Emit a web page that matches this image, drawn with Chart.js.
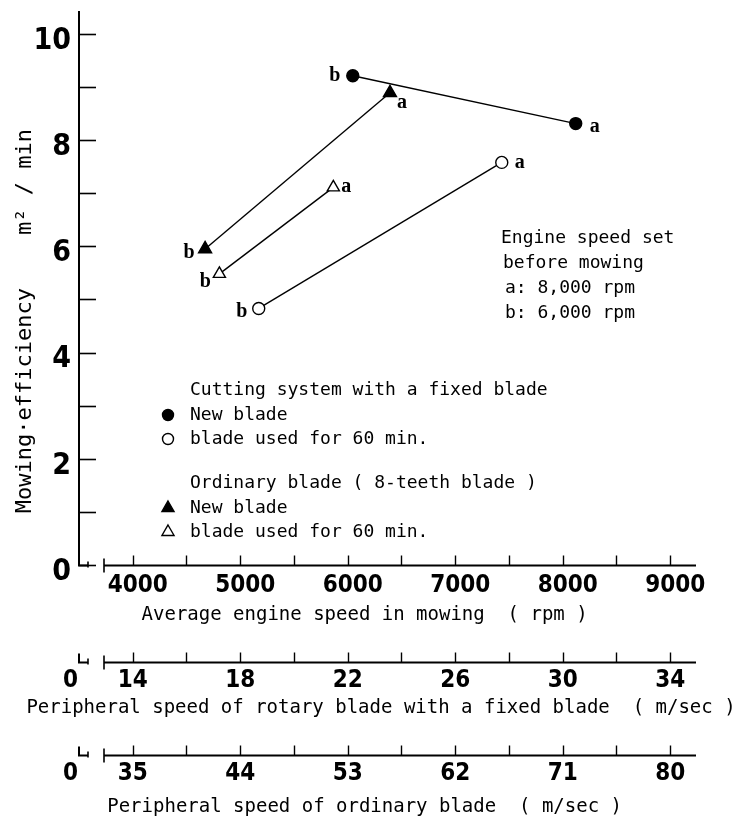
<!DOCTYPE html>
<html>
<head>
<meta charset="utf-8">
<title>Mowing efficiency vs engine speed</title>
<script src="https://cdn.jsdelivr.net/npm/chart.js@4.4.1/dist/chart.umd.min.js"></script>
<style>
    html, body { margin: 0; padding: 0; background: #fff; }
    #wrap { width: 732px; height: 820px; }
</style>
</head>
<body>
<div id="wrap"><canvas id="chart"></canvas></div>
<script>
// Values
// b = 6,000 rpm, a = 8,000 rpm (engine speed set before mowing)
const setSpeedTags = ['b', 'a'];

// Cutting system with a fixed blade
const fixedNewRpm = [6047, 8121];
const fixedNewEff = [9.21, 8.31];
const fixedUsedRpm = [5172, 7433];
const fixedUsedEff = [4.83, 7.58];

// Ordinary blade (8-teeth blade)
const ordNewRpm = [4673, 6393];
const ordNewEff = [5.95, 8.89];
const ordUsedRpm = [4806, 5866];
const ordUsedEff = [5.48, 7.11];

// Axes
const effTicks = [0, 1, 2, 3, 4, 5, 6, 7, 8, 9, 10];
const effLabels = [0, 2, 4, 6, 8, 10];
const rpmTicks = [4000, 4500, 5000, 5500, 6000, 6500, 7000, 7500, 8000, 8500, 9000];
const rpmLabels = [4000, 5000, 6000, 7000, 8000, 9000];
const fixedSpeedTicks = [14, 16, 18, 20, 22, 24, 26, 28, 30, 32, 34];
const fixedSpeedLabels = [14, 18, 22, 26, 30, 34];
const ordSpeedTicks = [35, 39.5, 44, 48.5, 53, 57.5, 62, 66.5, 71, 75.5, 80];
const ordSpeedLabels = [35, 44, 53, 62, 71, 80];

const RPM_MIN = 3500;
const RPM_MAX = 9240;

const MONO = '"DejaVu Sans Mono", "Liberation Mono", monospace';
const NARROW = '"Liberation Sans Narrow", "DejaVu Sans Condensed", sans-serif';

const FIXED_TITLE = 'Peripheral speed of rotary blade with a fixed blade  ( m/sec )';

function toPoints(xs, ys) {
    return xs.map((x, i) => ({ x: x, y: ys[i] }));
}

// secondary axes share the rpm positions: first label sits at 4000, last at 9000
function speedRange(labels) {
    const first = labels[0];
    const last = labels[labels.length - 1];
    const perRpm = (last - first) / (rpmLabels[rpmLabels.length - 1] - rpmLabels[0]);
    return {
        min: first + (RPM_MIN - rpmLabels[0]) * perRpm,
        max: first + (RPM_MAX - rpmLabels[0]) * perRpm
    };
}

function bottomAxis(tickValues, labelValues, range, title, weight, height, titlePad, tickPad, labelOffset) {
    return {
        type: 'linear',
        position: 'bottom',
        weight: weight,
        min: range.min,
        max: range.max,
        grid: { display: false, drawTicks: false },
        border: { display: false },
        afterBuildTicks: (scale) => {
            scale.ticks = tickValues.map(v => ({ value: v }));
        },
        afterFit: (scale) => {
            scale.height = height;
            scale.paddingLeft = 0;
            scale.paddingRight = 0;
        },
        ticks: {
            autoSkip: false,
            maxRotation: 0,
            padding: tickPad,
            labelOffset: labelOffset,
            color: '#000',
            font: { family: NARROW, size: 24, weight: 'bold' },
            callback: (v) => labelValues.includes(v) ? String(v) : ''
        },
        title: {
            display: title !== null,
            text: title || '',
            color: '#000',
            font: { family: MONO, size: 19 },
            padding: { top: 0, bottom: titlePad }
        }
    };
}

const lineStyle = {
    showLine: true,
    borderColor: '#000',
    borderWidth: 1.4,
    pointBorderColor: '#000',
    pointBorderWidth: 1.4,
    pointHoverRadius: 6
};

const datasets = [
    Object.assign({
        label: 'New blade',
        data: toPoints(fixedNewRpm, fixedNewEff),
        pointStyle: 'circle', pointRadius: 6, pointBackgroundColor: '#000',
        tagOffsets: [[-18, 0], [19, 3]]
    }, lineStyle),
    Object.assign({
        label: 'blade used for 60 min.',
        data: toPoints(fixedUsedRpm, fixedUsedEff),
        pointStyle: 'circle', pointRadius: 6, pointBackgroundColor: '#fff',
        tagOffsets: [[-17, 3], [18, 0]]
    }, lineStyle),
    Object.assign({
        label: 'New blade',
        data: toPoints(ordNewRpm, ordNewEff),
        pointStyle: 'triangle', pointRadius: 7.5, pointBackgroundColor: '#000',
        tagOffsets: [[-16, 4], [12, 10]]
    }, lineStyle),
    Object.assign({
        label: 'blade used for 60 min.',
        data: toPoints(ordUsedRpm, ordUsedEff),
        pointStyle: 'triangle', pointRadius: 7, pointBackgroundColor: '#fff',
        tagOffsets: [[-14, 8], [13, -1]]
    }, lineStyle)
];

// axis lines drawn by hand: ticks point inwards and the x axes are broken near the origin
const brokenAxes = {
    id: 'brokenAxes',
    afterDraw(chart) {
        const ctx = chart.ctx;
        const area = chart.chartArea;
        const L = area.left;
        const R = area.right;
        const yScale = chart.scales.y;
        ctx.save();
        ctx.strokeStyle = '#000';
        ctx.lineCap = 'butt';

        // y ticks
        ctx.lineWidth = 1.6;
        yScale.ticks.forEach(t => {
            const py = Math.round(yScale.getPixelForValue(t.value)) + 0.5;
            ctx.beginPath();
            ctx.moveTo(L, py);
            ctx.lineTo(L + 17, py);
            ctx.stroke();
        });

        ['x', 'x2', 'x3'].forEach((id, k) => {
            const s = chart.scales[id];
            const Y = Math.round(s.top) + 0.5;
            ctx.lineWidth = 2;
            ctx.beginPath();
            ctx.moveTo(L, k === 0 ? area.top : Y - 9);
            ctx.lineTo(L, Y);
            ctx.lineTo(L + 9, Y);
            ctx.stroke();
            ctx.lineWidth = 1.6;
            ctx.beginPath();
            ctx.moveTo(L + 9, Y - 4);
            ctx.lineTo(L + 9, Y + 2);
            ctx.moveTo(L + 25, Y - 7);
            ctx.lineTo(L + 25, Y + 7);
            ctx.stroke();
            ctx.lineWidth = 1.8;
            ctx.beginPath();
            ctx.moveTo(L + 25, Y);
            ctx.lineTo(R, Y);
            ctx.stroke();
            ctx.lineWidth = 1.4;
            s.ticks.forEach(t => {
                const px = Math.round(s.getPixelForValue(t.value)) + 0.5;
                ctx.beginPath();
                ctx.moveTo(px, Y);
                ctx.lineTo(px, Y - 10);
                ctx.stroke();
            });
            if (k > 0) {
                ctx.fillStyle = '#000';
                ctx.font = 'bold 24px ' + NARROW;
                ctx.textAlign = 'right';
                ctx.textBaseline = 'middle';
                ctx.fillText('0', L - 1, Y + 18);
            }
        });

        // this title is wider than its axis, so it is written here without squeezing
        const s2 = chart.scales.x2;
        ctx.fillStyle = '#000';
        ctx.font = '19px ' + MONO;
        ctx.textAlign = 'center';
        ctx.textBaseline = 'middle';
        ctx.fillText(FIXED_TITLE, L + 302, s2.bottom - 47);
        ctx.restore();
    }
};

// a / b tags beside every point
const speedTags = {
    id: 'speedTags',
    afterDatasetsDraw(chart) {
        const ctx = chart.ctx;
        ctx.save();
        ctx.fillStyle = '#000';
        ctx.font = 'bold 20px "Liberation Serif", "DejaVu Serif", serif';
        ctx.textAlign = 'center';
        ctx.textBaseline = 'middle';
        chart.data.datasets.forEach((ds, i) => {
            chart.getDatasetMeta(i).data.forEach((pt, j) => {
                const off = ds.tagOffsets[j];
                ctx.fillText(setSpeedTags[j], pt.x + off[0], pt.y + off[1]);
            });
        });
        ctx.restore();
    }
};

// grouped legend and the note on engine speed settings
const notes = {
    id: 'notes',
    afterDraw(chart) {
        const ctx = chart.ctx;
        const area = chart.chartArea;
        const L = area.left;
        const ds = chart.data.datasets;
        ctx.save();
        ctx.fillStyle = '#000';
        ctx.font = '18px ' + MONO;
        ctx.textAlign = 'left';
        ctx.textBaseline = 'middle';

        const rows = [
            { y: 390, text: 'Cutting system with a fixed blade' },
            { y: 415, ds: 0 },
            { y: 439, ds: 1 },
            { y: 483, text: 'Ordinary blade ( 8-teeth blade )' },
            { y: 508, ds: 2 },
            { y: 532, ds: 3 }
        ];
        rows.forEach(r => {
            if (r.ds === undefined) {
                ctx.fillText(r.text, L + 111, r.y);
                return;
            }
            const d = ds[r.ds];
            ctx.fillText(d.label, L + 111, r.y);
            ctx.strokeStyle = '#000';
            ctx.lineWidth = 1.4;
            ctx.fillStyle = d.pointBackgroundColor;
            Chart.helpers.drawPoint(ctx, {
                pointStyle: d.pointStyle,
                radius: d.pointStyle === 'circle' ? 5.5 : 7,
                rotation: 0,
                borderWidth: 1.4
            }, L + 89, r.y);
            ctx.fillStyle = '#000';
        });

        ctx.fillText('Engine speed set', L + 422, 238);
        ctx.fillText('before mowing', L + 424, 263);
        ctx.fillText('a: 8,000 rpm', L + 426, 288);
        ctx.fillText('b: 6,000 rpm', L + 426, 313);
        ctx.restore();
    }
};

const fixedRange = speedRange(fixedSpeedLabels);
const ordRange = speedRange(ordSpeedLabels);

new Chart(document.getElementById('chart'), {
    type: 'scatter',
    data: { datasets: datasets },
    options: {
        responsive: true,
        maintainAspectRatio: false,
        animation: false,
        layout: { padding: { top: 11, right: 36, bottom: 0, left: 0 } },
        plugins: {
            legend: { display: false },
            tooltip: { enabled: false }
        },
        scales: {
            x: bottomAxis(rpmTicks, rpmLabels, { min: RPM_MIN, max: RPM_MAX },
                'Average engine speed in mowing  ( rpm )    ', 0, 97, 36, 6, 5),
            x2: bottomAxis(fixedSpeedTicks, fixedSpeedLabels, fixedRange,
                null, 1, 93, 36, 4, 0),
            x3: bottomAxis(ordSpeedTicks, ordSpeedLabels, ordRange,
                'Peripheral speed of ordinary blade  ( m/sec )    ', 2, 65, 2, 4, 0),
            y: {
                type: 'linear',
                position: 'left',
                min: 0,
                max: 10.43,
                grid: { display: false, drawTicks: false },
                border: { display: false },
                afterBuildTicks: (scale) => {
                    scale.ticks = effTicks.map(v => ({ value: v }));
                },
                afterFit: (scale) => {
                    scale.width = 79;
                    scale.paddingTop = 0;
                    scale.paddingBottom = 0;
                },
                ticks: {
                    autoSkip: false,
                    padding: 8,
                    labelOffset: 7,
                    color: '#000',
                    font: { family: NARROW, size: 30, weight: 'bold' },
                    callback: (v) => effLabels.includes(v) ? String(v) : ''
                },
                title: {
                    display: true,
                    text: 'Mowing\u00b7efficiency    m\u00b2 / min     ',
                    color: '#000',
                    font: { family: MONO, size: 22 },
                    padding: { top: 12, bottom: 0 }
                }
            }
        }
    },
    plugins: [brokenAxes, speedTags, notes]
});
</script>
</body>
</html>
